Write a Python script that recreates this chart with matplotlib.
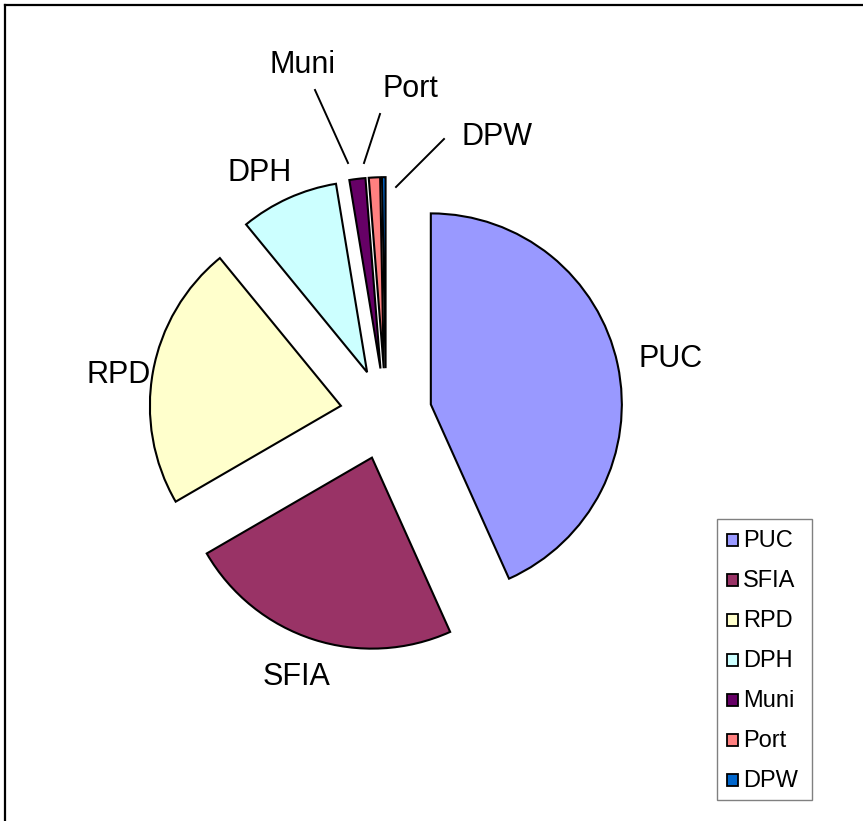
import matplotlib
matplotlib.use("Agg")
import matplotlib.pyplot as plt
from matplotlib.patches import Rectangle
from matplotlib.lines import Line2D

plt.rcParams['font.family'] = ['Liberation Sans', 'DejaVu Sans']

# Data (percent shares)
names = ["PUC", "SFIA", "RPD", "DPH", "Muni", "Port", "DPW"]
shares = [43.2, 23.3, 22.4, 8.3, 1.35, 0.95, 0.3]
colors = ["#9999FF", "#993366", "#FFFFCC", "#CCFFFF", "#660066", "#FF8080", "#0066CC"]

W, H = 863, 821
fig = plt.figure(figsize=(W / 100, H / 100), dpi=100)


def fx(px):
    return px / W


def fy(py):
    return 1 - py / H


# pie centre and radius in pixels
cx, cy, R = 386, 414, 191

ax = fig.add_axes([0, 0, 1, 1])
ax.pie(shares, colors=colors, startangle=90, counterclock=False,
       explode=[0.24] * len(shares), radius=1,
       wedgeprops=dict(edgecolor="black", linewidth=1.5))
ax.set_aspect("auto")
ax.set_xlim(-cx / R, (W - cx) / R)
ax.set_ylim(-(H - cy) / R, cy / R)
ax.axis("off")

# slice labels (centre x, baseline y in pixels)
label_pos = {"PUC": (671, 367), "SFIA": (297, 685), "RPD": (119, 383),
             "DPH": (260, 181), "Muni": (302, 73), "Port": (410, 97),
             "DPW": (497, 145)}
for n in names:
    px, py = label_pos[n]
    fig.text(fx(px), fy(py), n, ha="center", va="baseline", fontsize=22)

# leader lines for the small slices
leaders = [((315, 90), (348, 163)), ((380, 114), (364, 163)),
           ((444, 139), (396, 187))]
for (x0, y0), (x1, y1) in leaders:
    fig.add_artist(Line2D([fx(x0), fx(x1)], [fy(y0), fy(y1)],
                          transform=fig.transFigure, color="black", lw=1.4))

# chart frame (only top and left visible)
fig.add_artist(Line2D([fx(5), fx(W + 5)], [fy(5), fy(5)],
                      transform=fig.transFigure, color="black", lw=1.6))
fig.add_artist(Line2D([fx(5), fx(5)], [fy(5), fy(H + 5)],
                      transform=fig.transFigure, color="black", lw=1.6))

# legend
fig.add_artist(Rectangle((fx(717), fy(800)), fx(812) - fx(717), fy(519) - fy(800),
                         transform=fig.transFigure, facecolor="white",
                         edgecolor="#808080", lw=1.0))
for i, (n, c) in enumerate(zip(names, colors)):
    top = 534 + 40 * i
    fig.add_artist(Rectangle((fx(727), fy(top + 12)), fx(738) - fx(727),
                             fy(top) - fy(top + 12), transform=fig.transFigure,
                             facecolor=c, edgecolor="black", lw=1.3))
    fig.text(fx(743), fy(547 + 40 * i), n, ha="left", va="baseline", fontsize=17)

fig.savefig("out.png", dpi=100)
